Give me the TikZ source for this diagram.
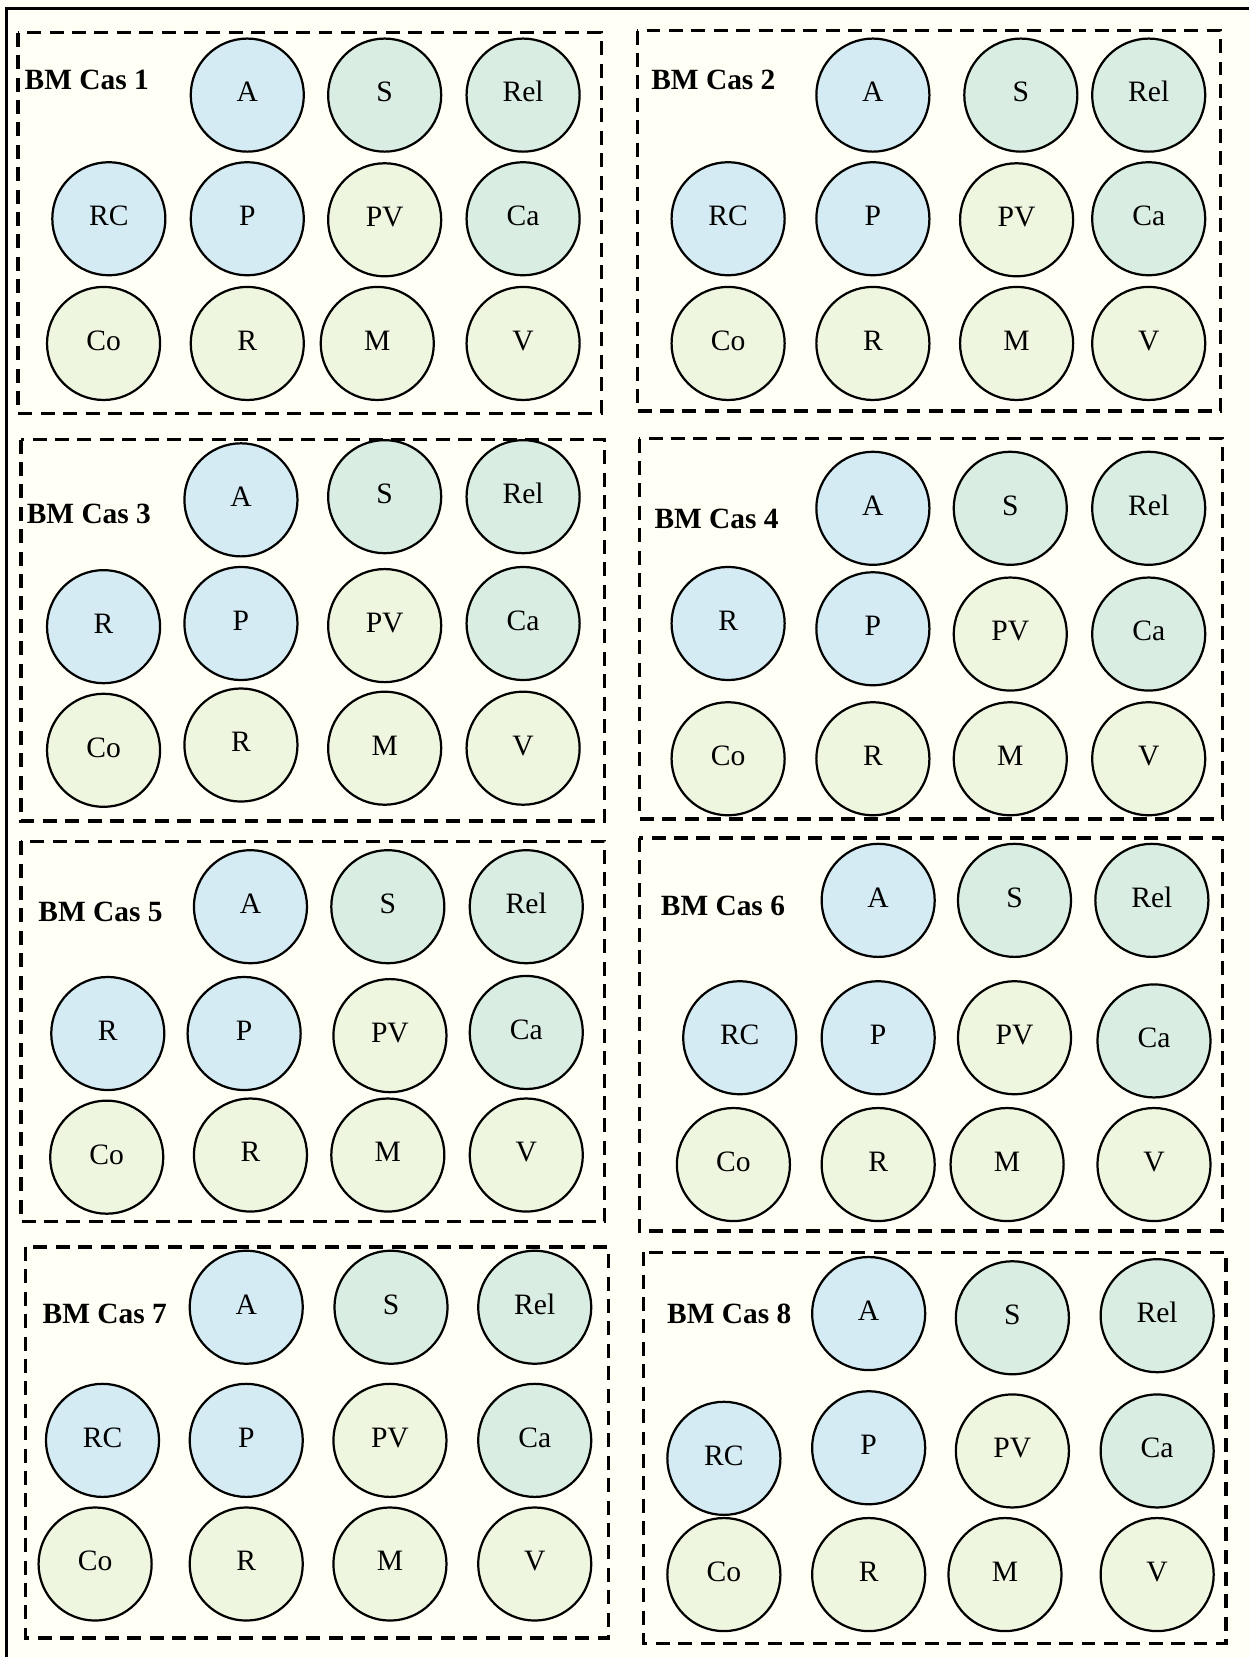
\documentclass[tikz,border=0pt]{standalone}
\usepackage{fontspec}
\setmainfont{Liberation Serif}
\definecolor{cblue}{RGB}{213,235,243}
\definecolor{cteal}{RGB}{217,237,226}
\definecolor{cgreen}{RGB}{239,246,224}
\definecolor{bgc}{RGB}{255,255,245}
\begin{document}
\begin{tikzpicture}[x=0.5pt,y=-0.5pt,
  bub/.style={circle, draw=black, line width=1.05pt, minimum size=53.5pt, inner sep=0pt,
    text height=10pt, text depth=3.5pt, font=\fontsize{14}{15}\selectfont},
  cb/.style={bub, fill=cblue},
  ct/.style={bub, fill=cteal},
  cg/.style={bub, fill=cgreen},
  casbox/.style={draw=black, line width=1.6pt, dash pattern=on 6.6pt off 4pt},
  ttl/.style={anchor=west, inner sep=0pt, font=\bfseries\fontsize{13.9}{15}\selectfont},
  frame/.style={draw=black, line width=1.3pt}]
\useasboundingbox (0,0) rectangle (1182,1568);
\fill[bgc] (0,0) rectangle (1182,1568);
\coordinate (ftl) at (6,8);
\coordinate (ftr) at (1182,8);
\coordinate (fbl) at (6,1568);
\draw[frame] (ftr) -- (ftl) -- (fbl);

% ---------- Box 1
\draw[casbox] (17,31) rectangle (569,391);
\node[ttl] (t1) at (23,76) {BM Cas 1};
\node[cb] (b1a)   at (234,90) {A};
\node[ct] (b1s)   at (364,90) {S};
\node[ct] (b1rel) at (495,90) {Rel};
\node[cb] (b1rc)  at (103,207) {RC};
\node[cb] (b1p)   at (234,207) {P};
\node[cg] (b1pv)  at (364,208) {PV};
\node[ct] (b1ca)  at (495,207) {Ca};
\node[cg] (b1co)  at (98,325) {Co};
\node[cg] (b1r)   at (234,325) {R};
\node[cg] (b1m)   at (357,325) {M};
\node[cg] (b1v)   at (495,325) {V};

% ---------- Box 2
\draw[casbox] (603,29) rectangle (1155,389);
\node[ttl] (t2) at (616,76) {BM Cas 2};
\node[cb] (b2a)   at (826,90) {A};
\node[ct] (b2s)   at (966,90) {S};
\node[ct] (b2rel) at (1087,90) {Rel};
\node[cb] (b2rc)  at (689,207) {RC};
\node[cb] (b2p)   at (826,207) {P};
\node[cg] (b2pv)  at (962,208) {PV};
\node[ct] (b2ca)  at (1087,207) {Ca};
\node[cg] (b2co)  at (689,325) {Co};
\node[cg] (b2r)   at (826,325) {R};
\node[cg] (b2m)   at (962,325) {M};
\node[cg] (b2v)   at (1087,325) {V};

% ---------- Box 3
\draw[casbox] (20,416) rectangle (572,777);
\node[ttl] (t3) at (25,486) {BM Cas 3};
\node[cb] (b3a)   at (228,473) {A};
\node[ct] (b3s)   at (364,470) {S};
\node[ct] (b3rel) at (495,470) {Rel};
\node[cb] (b3rc)  at (98,593) {R};
\node[cb] (b3p)   at (228,590) {P};
\node[cg] (b3pv)  at (364,592) {PV};
\node[ct] (b3ca)  at (495,590) {Ca};
\node[cg] (b3co)  at (98,710) {Co};
\node[cg] (b3r)   at (228,705) {R};
\node[cg] (b3m)   at (364,708) {M};
\node[cg] (b3v)   at (495,708) {V};

% ---------- Box 4
\draw[casbox] (605,415) rectangle (1157,775);
\node[ttl] (t4) at (619,491) {BM Cas 4};
\node[cb] (b4a)   at (826,481) {A};
\node[ct] (b4s)   at (956,481) {S};
\node[ct] (b4rel) at (1087,481) {Rel};
\node[cb] (b4rc)  at (689,590) {R};
\node[cb] (b4p)   at (826,595) {P};
\node[cg] (b4pv)  at (956,600) {PV};
\node[ct] (b4ca)  at (1087,600) {Ca};
\node[cg] (b4co)  at (689,718) {Co};
\node[cg] (b4r)   at (826,718) {R};
\node[cg] (b4m)   at (956,718) {M};
\node[cg] (b4v)   at (1087,718) {V};

% ---------- Box 5
\draw[casbox] (20,796) rectangle (572,1156);
\node[ttl] (t5) at (36,863) {BM Cas 5};
\node[cb] (b5a)   at (237,858) {A};
\node[ct] (b5s)   at (367,858) {S};
\node[ct] (b5rel) at (498,858) {Rel};
\node[cb] (b5rc)  at (102,978) {R};
\node[cb] (b5p)   at (231,978) {P};
\node[cg] (b5pv)  at (369,980) {PV};
\node[ct] (b5ca)  at (498,977) {Ca};
\node[cg] (b5co)  at (101,1095) {Co};
\node[cg] (b5r)   at (237,1093) {R};
\node[cg] (b5m)   at (367,1093) {M};
\node[cg] (b5v)   at (498,1093) {V};

% ---------- Box 6
\draw[casbox] (605,793) rectangle (1157,1165);
\node[ttl] (t6) at (625,857) {BM Cas 6};
\node[cb] (b6a)   at (831,852) {A};
\node[ct] (b6s)   at (960,852) {S};
\node[ct] (b6rel) at (1090,852) {Rel};
\node[cb] (b6rc)  at (700,982) {RC};
\node[cb] (b6p)   at (831,982) {P};
\node[cg] (b6pv)  at (960,982) {PV};
\node[ct] (b6ca)  at (1092,985) {Ca};
\node[cg] (b6co)  at (694,1102) {Co};
\node[cg] (b6r)   at (831,1102) {R};
\node[cg] (b6m)   at (953,1102) {M};
\node[cg] (b6v)   at (1092,1102) {V};

% ---------- Box 7
\draw[casbox] (24,1180) rectangle (576,1550);
\node[ttl] (t7) at (40,1243) {BM Cas 7};
\node[cb] (b7a)   at (233,1237) {A};
\node[ct] (b7s)   at (370,1237) {S};
\node[ct] (b7rel) at (506,1237) {Rel};
\node[cb] (b7rc)  at (97,1363) {RC};
\node[cb] (b7p)   at (233,1363) {P};
\node[cg] (b7pv)  at (369,1363) {PV};
\node[ct] (b7ca)  at (506,1363) {Ca};
\node[cg] (b7co)  at (90,1480) {Co};
\node[cg] (b7r)   at (233,1480) {R};
\node[cg] (b7m)   at (369,1480) {M};
\node[cg] (b7v)   at (506,1480) {V};

% ---------- Box 8
\draw[casbox] (609,1185) rectangle (1160,1555);
\node[ttl] (t8) at (631,1243) {BM Cas 8};
\node[cb] (b8a)   at (822,1243) {A};
\node[ct] (b8s)   at (958,1247) {S};
\node[ct] (b8rel) at (1095,1245) {Rel};
\node[cb] (b8rc)  at (685,1380) {RC};
\node[cb] (b8p)   at (822,1370) {P};
\node[cg] (b8pv)  at (958,1373) {PV};
\node[ct] (b8ca)  at (1095,1373) {Ca};
\node[cg] (b8co)  at (685,1490) {Co};
\node[cg] (b8r)   at (822,1490) {R};
\node[cg] (b8m)   at (951,1490) {M};
\node[cg] (b8v)   at (1095,1490) {V};
\end{tikzpicture}
\end{document}
